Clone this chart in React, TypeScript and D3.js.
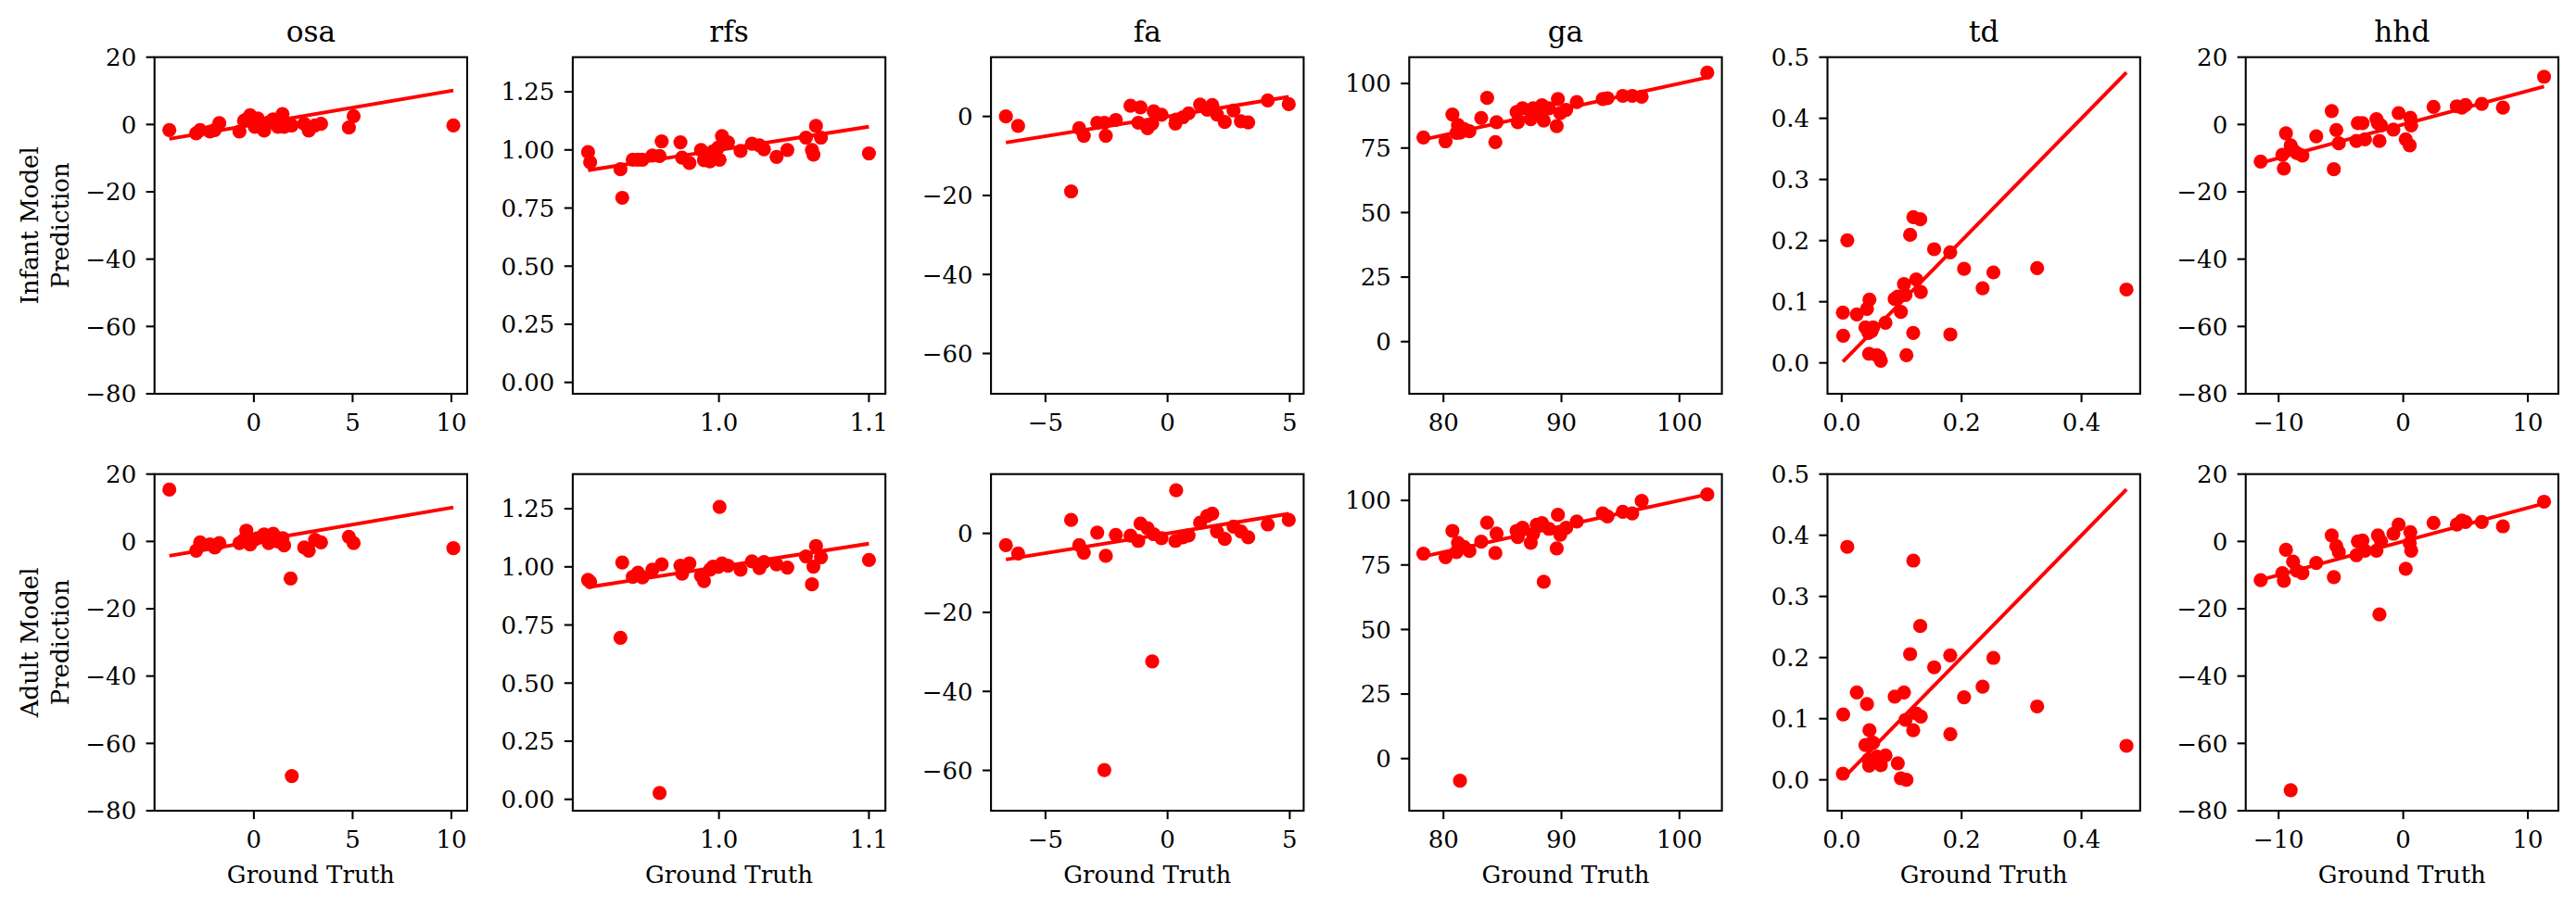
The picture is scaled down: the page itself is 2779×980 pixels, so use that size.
import React from "react";
import * as d3 from "d3";

// ---------- data ----------
const measures = ["osa", "rfs", "fa", "ga", "td", "hhd"];
const rowLabels = [["Infant Model", "Prediction"], ["Adult Model", "Prediction"]];
const xAxisLabel = "Ground Truth";

const osaTruth = [-4.28, -2.92, -2.72, -2.22, -1.98, -1.75, -0.73, -0.5, -0.38, -0.19, 0.05, 0.2, 0.52, 0.75, 0.98, 1.22, 1.45, 1.53, 1.86, 1.92, 2.55, 2.78, 3.1, 3.4, 4.81, 5.05, 10.1];
const osaInfant = [-1.65, -2.6, -1.65, -2.1, -1.65, 0.4, -2.1, 1.1, 1.5, 2.75, -0.7, 1.8, -1.8, 0.6, 1.55, -0.7, 3.1, -0.7, -0.2, -0.3, 0.2, -1.8, -0.3, 0.2, -0.9, 2.5, -0.3];
const osaAdult = [15.4, -2.75, -0.3, -0.9, -1.8, -0.5, -0.5, 0.5, 3.2, -0.9, 0.6, 1.0, 2.1, -0.5, 2.3, 0, 1.0, -1.2, -11, -69.7, -1.8, -2.75, 0.5, -0.3, 1.4, -0.5, -2.0];

const rfsTruth = [0.9127, 0.9141, 0.9343, 0.9355, 0.9425, 0.946, 0.949, 0.9556, 0.9604, 0.9618, 0.9743, 0.9754, 0.9803, 0.988, 0.99, 0.994, 0.996, 0.9994, 1.0004, 1.002, 1.006, 1.0144, 1.022, 1.027, 1.03, 1.0384, 1.0456, 1.058, 1.062, 1.063, 1.0647, 1.068, 1.1];
const rfsInfant = [0.991, 0.947, 0.917, 0.794, 0.958, 0.958, 0.958, 0.976, 0.974, 1.037, 1.033, 0.967, 0.944, 1.0, 0.956, 0.951, 0.994, 1.01, 0.958, 1.06, 1.033, 0.996, 1.027, 1.02, 1.003, 0.97, 1.0, 1.053, 1.0, 0.98, 1.103, 1.053, 0.985];
const rfsAdult = [0.944, 0.935, 0.695, 1.019, 0.957, 0.975, 0.955, 0.988, 0.027, 1.011, 1.005, 0.971, 1.015, 0.961, 0.939, 0.988, 1.001, 1.0, 1.258, 1.015, 1.005, 0.988, 1.024, 0.995, 1.021, 1.011, 0.997, 1.045, 0.925, 1.001, 1.09, 1.041, 1.03];

const faTruth = [-6.62, -6.12, -3.95, -3.62, -3.43, -2.88, -2.59, -2.53, -2.12, -1.52, -1.2, -1.11, -0.82, -0.63, -0.57, -0.25, 0.32, 0.35, 0.63, 0.86, 1.33, 1.62, 1.83, 2.02, 2.34, 2.7, 3.0, 3.3, 4.1, 4.96];
const faInfant = [0, -2.4, -19.0, -3.0, -4.9, -1.6, -1.6, -4.9, -0.9, 2.7, -1.6, 2.3, -3.0, -1.8, 1.3, 0.4, -1.8, -0.8, -0.2, 0.8, 3.0, 1.7, 2.9, 0.5, -1.4, 1.5, -1.2, -1.5, 4.06, 3.1];
const faAdult = [-3.0, -5.1, 3.4, -3.0, -4.9, 0.2, -59.9, -5.7, -0.4, -0.6, -1.9, 2.5, 1.3, -32.4, -0.2, -1.2, -1.9, 10.9, -1.0, -0.5, 2.7, 4.4, 5.0, 0.5, -1.4, 1.7, 0.5, -1.0, 2.26, 3.4];

const gaTruth = [78.3, 80.18, 80.76, 81.1, 81.23, 81.4, 81.75, 82.2, 83.2, 83.7, 84.4, 84.5, 86.2, 86.3, 86.7, 87.4, 87.6, 87.9, 88.35, 88.5, 88.95, 89.6, 89.7, 89.9, 90.4, 91.3, 93.5, 93.9, 95.2, 96.0, 96.8, 102.36];
const gaInfant = [79.1, 77.6, 88.0, 80.9, 83.9, 81.0, 82.3, 81.5, 86.6, 94.4, 77.3, 85.0, 89.0, 85.0, 90.4, 86.2, 90.4, 88.0, 91.6, 85.6, 90.4, 83.5, 94.0, 88.5, 89.8, 92.8, 94.0, 94.3, 95.2, 95.2, 94.9, 104.2];
const gaAdult = [79.4, 78.0, 88.2, 80.0, 83.6, -8.6, 82.0, 80.4, 84.0, 91.4, 79.6, 87.2, 88.2, 85.8, 89.4, 83.6, 87.0, 90.6, 91.2, 68.5, 89.0, 81.4, 94.4, 86.7, 89.4, 91.8, 95.0, 93.8, 95.6, 95.0, 99.8, 102.3];

const tdTruth = [0.002, 0.0025, 0.0093, 0.0252, 0.0396, 0.0422, 0.0447, 0.0458, 0.0463, 0.0499, 0.0524, 0.0586, 0.0627, 0.0653, 0.073, 0.0884, 0.0936, 0.0987, 0.1039, 0.1064, 0.108, 0.1141, 0.1193, 0.1195, 0.1244, 0.131, 0.132, 0.1542, 0.181, 0.1812, 0.2041, 0.235, 0.253, 0.326, 0.475];
const tdInfant = [0.0823, 0.0444, 0.2005, 0.0793, 0.058, 0.0884, 0.049, 0.015, 0.1035, 0.052, 0.058, 0.0126, 0.01, 0.0035, 0.0657, 0.1045, 0.1086, 0.0833, 0.1288, 0.111, 0.0126, 0.2096, 0.049, 0.2384, 0.1364, 0.2348, 0.116, 0.1859, 0.1808, 0.0465, 0.154, 0.1222, 0.148, 0.155, 0.12];
const tdAdult = [0.0101, 0.107, 0.381, 0.143, 0.057, 0.124, 0.033, 0.023, 0.081, 0.06, 0.0606, 0.038, 0.03, 0.024, 0.04, 0.136, 0.027, 0.0025, 0.143, 0.098, 0.0, 0.2056, 0.081, 0.3586, 0.1086, 0.2515, 0.1035, 0.184, 0.2035, 0.0747, 0.135, 0.1525, 0.1995, 0.12, 0.0556];

const hhdTruth = [-11.44, -9.7, -9.58, -9.41, -9.03, -8.84, -8.54, -8.09, -6.98, -5.74, -5.57, -5.37, -5.17, -3.76, -3.64, -3.27, -3.07, -2.15, -2.03, -1.91, -1.78, -0.79, -0.37, 0.2, 0.52, 0.57, 0.64, 2.43, 4.3, 4.7, 5.0, 6.3, 8.0, 11.3];
const hhdInfant = [-11.0, -9.0, -13.1, -2.6, -6.2, -7.6, -8.5, -9.2, -3.5, 4.0, -13.3, -1.65, -5.6, -4.9, 0.4, 0.4, -4.4, 1.6, 0.4, -4.9, -0.3, -1.5, 3.4, -4.4, -6.2, 2.0, -0.3, 5.2, 5.4, 5.0, 5.8, 6.1, 5.0, 14.2];
const hhdAdult = [-11.5, -9.4, -11.7, -2.5, -73.9, -6.0, -8.7, -9.4, -6.4, 1.8, -10.6, -1.4, -3.2, -4.1, 0, 0.3, -2.75, -2.75, 1.8, -21.7, 0, 2.3, 5.0, -8.1, -0.5, 2.75, -2.75, 5.5, 5.0, 6.2, 5.8, 5.8, 4.5, 11.8];

// axis limits and ticks per measure
const xLimits = [[-5.03, 10.8], [0.9025, 1.111], [-7.23, 5.57], [77.1, 103.6], [-0.0237, 0.4978], [-12.64, 12.45]];
const yLimits = [[-80, 20], [-0.049, 1.399], [-70.2, 15], [-20.2, 110.2], [-0.0505, 0.5], [-80, 20]];
const xTicks = [[0, 5, 10], [1.0, 1.1], [-5, 0, 5], [80, 90, 100], [0, 0.2, 0.4], [-10, 0, 10]];
const yTicks = [[-80, -60, -40, -20, 0, 20], [0, 0.25, 0.5, 0.75, 1.0, 1.25], [-60, -40, -20, 0], [0, 25, 50, 75, 100], [0, 0.1, 0.2, 0.3, 0.4, 0.5], [-80, -60, -40, -20, 0, 20]];
const xFormats = ["d", ".1f", "d", "d", ".1f", "d"];
const yFormats = ["d", ".2f", "d", "d", ".1f", "d"];

const truths = [osaTruth, rfsTruth, faTruth, gaTruth, tdTruth, hhdTruth];
const preds = [
  [osaInfant, rfsInfant, faInfant, gaInfant, tdInfant, hhdInfant],
  [osaAdult, rfsAdult, faAdult, gaAdult, tdAdult, hhdAdult],
];

// ---------- layout ----------
const W = 2779;
const H = 980;
const LEFT0 = 166.7;
const COL_STEP = 451.2;
const PW = 337.3;
const ROW_TOPS = [61.7, 511.7];
const PH = 363.3;
const FONT = "DejaVu Serif, serif";
const TICK_FS = 26;
const TITLE_FS = 31.2;
const TICK_LEN = 9.1;
const LW = 2.08;
const RED = "#ff0000";

const fmt = (f: string) => {
  const g = d3.format(f);
  return (v: number) => g(v).replace("-", "\u2212");
};

function Panel({ col, row }: { col: number; row: number }) {
  const left = LEFT0 + col * COL_STEP;
  const top = ROW_TOPS[row];
  const x = d3.scaleLinear().domain(xLimits[col]).range([left, left + PW]);
  const y = d3.scaleLinear().domain(yLimits[col]).range([top + PH, top]);
  const gt = truths[col];
  const pr = preds[row][col];
  const lo = d3.min(gt) as number;
  const hi = d3.max(gt) as number;
  const xf = fmt(xFormats[col]);
  const yf = fmt(yFormats[col]);
  const line = d3.line<number>().x((d) => x(d)).y((d) => y(d));
  return (
    <g>
      {gt.map((g, i) => (
        <circle key={i} cx={x(g)} cy={y(pr[i])} r={7.6} fill={RED} />
      ))}
      <path d={line([lo, hi]) || ""} stroke={RED} strokeWidth={3.9} fill="none" />
      <rect x={left} y={top} width={PW} height={PH} fill="none" stroke="#000" strokeWidth={LW} />
      {yTicks[col].map((t) => (
        <g key={"y" + t}>
          <line x1={left - TICK_LEN} x2={left} y1={y(t)} y2={y(t)} stroke="#000" strokeWidth={LW} />
          <text x={left - 19.5} y={y(t)} dy="0.36em" textAnchor="end" fontSize={TICK_FS} fontFamily={FONT}>
            {yf(t)}
          </text>
        </g>
      ))}
      {xTicks[col].map((t) => (
        <g key={"x" + t}>
          <line x1={x(t)} x2={x(t)} y1={top + PH} y2={top + PH + TICK_LEN} stroke="#000" strokeWidth={LW} />
          <text x={x(t)} y={top + PH + 40} textAnchor="middle" fontSize={TICK_FS} fontFamily={FONT}>
            {xf(t)}
          </text>
        </g>
      ))}
      {row === 0 && (
        <text x={left + PW / 2} y={45} textAnchor="middle" fontSize={TITLE_FS} fontFamily={FONT}>
          {measures[col]}
        </text>
      )}
      {row === 1 && (
        <text x={left + PW / 2} y={top + PH + 78} textAnchor="middle" fontSize={TICK_FS} fontFamily={FONT}>
          {xAxisLabel}
        </text>
      )}
      {col === 0 && (
        <text
          transform={`translate(${40.7},${top + PH / 2}) rotate(-90)`}
          textAnchor="middle"
          fontSize={TICK_FS}
          fontFamily={FONT}
        >
          <tspan x={0} y={0}>{rowLabels[row][0]}</tspan>
          <tspan x={0} y={33.3}>{rowLabels[row][1]}</tspan>
        </text>
      )}
    </g>
  );
}

export default function App() {
  return (
    <svg
      width={W}
      height={H}
      style={{ position: "absolute", left: 0, top: 0, background: "#fff" }}
    >
      <rect x={0} y={0} width={W} height={H} fill="#fff" />
      {[0, 1].map((r) => measures.map((m, c) => <Panel key={m + r} col={c} row={r} />))}
    </svg>
  );
}
